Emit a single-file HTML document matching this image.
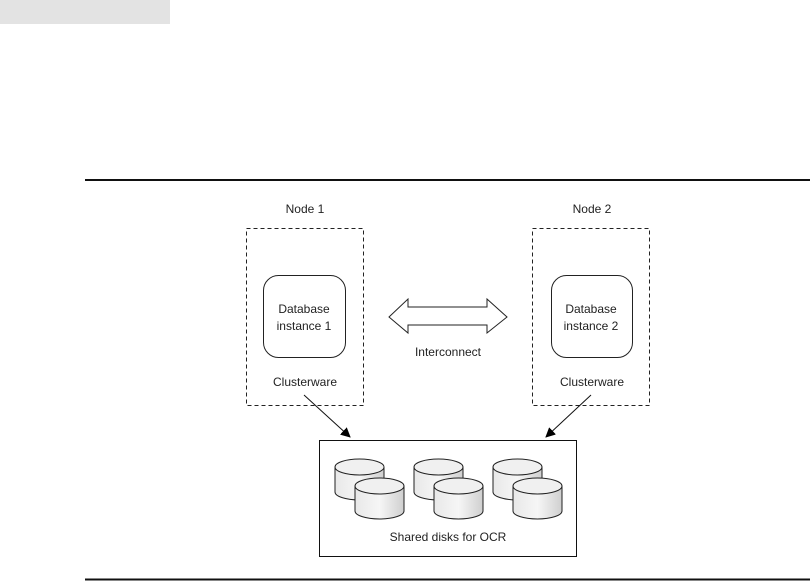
<!DOCTYPE html>
<html><head><meta charset="utf-8"><style>
html,body{margin:0;padding:0;background:#fff;}
svg{display:block;}
text{font-family:"Liberation Sans",sans-serif;font-size:12px;fill:#222;}
</style></head><body>
<svg width="810" height="581" viewBox="0 0 810 581" xmlns="http://www.w3.org/2000/svg">
<defs>
<marker id="ah" markerWidth="10" markerHeight="10" refX="9" refY="5" orient="auto" markerUnits="userSpaceOnUse">
<path d="M0,0 L10,5 L0,10 z" fill="#000"/>
</marker>
<linearGradient id="g" x1="0" x2="1" y1="0" y2="0">
<stop offset="0" stop-color="#e8e8e8"/><stop offset="0.5" stop-color="#f6f6f6"/><stop offset="1" stop-color="#cfcfcf"/>
</linearGradient>
<g id="cyl">
<path d="M0,8 L0,33 A24.5,8 0 0 0 49,33 L49,8" fill="url(#g)" stroke="#222" stroke-width="1"/>
<ellipse cx="24.5" cy="8" rx="24.5" ry="8" fill="#f0f0f0" stroke="#222" stroke-width="1"/>
</g>
</defs>
<rect x="0" y="0" width="170" height="24" fill="#e3e3e3"/>
<line x1="85" y1="180" x2="810" y2="180" stroke="#111" stroke-width="2"/>
<line x1="85" y1="579.5" x2="810" y2="579.5" stroke="#111" stroke-width="2"/>

<text x="305" y="213" text-anchor="middle">Node 1</text>
<text x="592" y="213" text-anchor="middle">Node 2</text>
<rect x="246.5" y="228.5" width="117" height="177" fill="none" stroke="#222" stroke-dasharray="4,3"/>
<rect x="532.5" y="228.5" width="117" height="177" fill="none" stroke="#222" stroke-dasharray="4,3"/>
<rect x="263.5" y="275.5" width="82" height="82" rx="15" fill="none" stroke="#222"/>
<rect x="551.5" y="275.5" width="81" height="82" rx="15" fill="none" stroke="#222"/>
<text x="304" y="313" text-anchor="middle">Database</text>
<text x="304" y="330" text-anchor="middle">instance 1</text>
<text x="591" y="313" text-anchor="middle">Database</text>
<text x="591" y="330" text-anchor="middle">instance 2</text>
<text x="305" y="386" text-anchor="middle">Clusterware</text>
<text x="592" y="386" text-anchor="middle">Clusterware</text>

<path d="M389,317 L408,299 L408,307 L487,307 L487,299 L507,317 L487,333 L487,325 L408,325 L408,333 Z" fill="#fff" stroke="#222"/>
<text x="448" y="356" text-anchor="middle">Interconnect</text>

<line x1="304" y1="395" x2="350" y2="437" stroke="#111" marker-end="url(#ah)"/>
<line x1="591" y1="395" x2="546" y2="437" stroke="#111" marker-end="url(#ah)"/>

<rect x="319.5" y="440.5" width="257" height="116" fill="#fff" stroke="#111"/>
<use href="#cyl" x="335" y="459"/>
<use href="#cyl" x="355" y="478"/>
<use href="#cyl" x="414" y="459"/>
<use href="#cyl" x="434" y="478"/>
<use href="#cyl" x="493" y="459"/>
<use href="#cyl" x="513" y="478"/>
<text x="448" y="541" text-anchor="middle">Shared disks for OCR</text>
</svg>
</body></html>
